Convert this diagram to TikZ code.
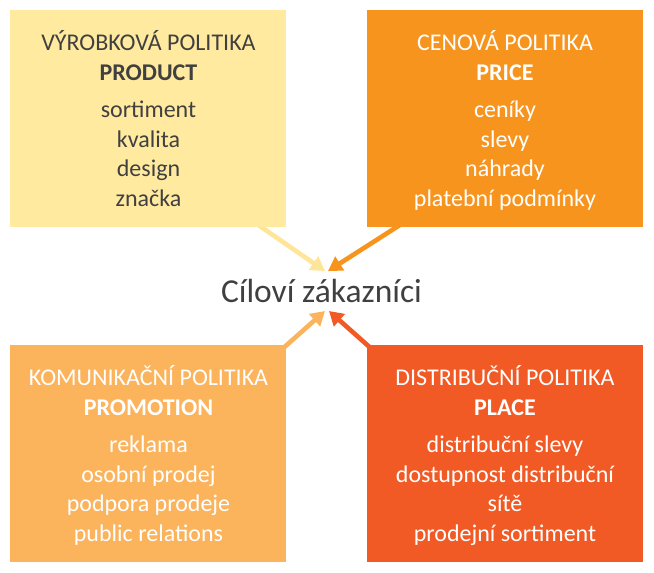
\documentclass[tikz,border=0pt]{standalone}
\usepackage{fontspec}
\setmainfont{Carlito}
\usetikzlibrary{arrows.meta}
\definecolor{cYel}{HTML}{FFEAA0}
\definecolor{cOra}{HTML}{F7941E}
\definecolor{cLor}{HTML}{FBB35C}
\definecolor{cRed}{HTML}{F15A24}
\definecolor{cTxt}{HTML}{404040}
\pgfdeclarelayer{bg}
\pgfsetlayers{bg,main}
\begin{document}
\begin{tikzpicture}[x=1pt,y=-1pt,
  boxnode/.style={draw=none,inner sep=0pt,minimum width=276pt,minimum height=217pt,anchor=north west},
  boxtext/.style={inner sep=0pt,anchor=north,align=center,font=\fontsize{24}{29.7}\selectfont},
  arr/.style={line width=4.6pt,-{Triangle[width=16pt,length=14pt]}}]
\useasboundingbox (0,0) rectangle (654,573);
\node[boxnode,fill=cYel] (tl) at (10,10) {};
\node[boxnode,fill=cOra] (tr) at (367,10) {};
\node[boxnode,fill=cLor] (bl) at (10,345) {};
\node[boxnode,fill=cRed] (br) at (367,345) {};
\node[boxtext,text=cTxt] (tlt) at (148.5,30) {\strut VÝROBKOVÁ POLITIKA\\ \textbf{PRODUCT}\\[7pt] sortiment\\ kvalita\\ design\\ značka};
\node[boxtext,text=white] (trt) at (505,30) {\strut CENOVÁ POLITIKA\\ \textbf{PRICE}\\[7pt] ceníky\\ slevy\\ náhrady\\ platební podmínky};
\node[boxtext,text=white] (blt) at (148.5,365) {\strut KOMUNIKAČNÍ POLITIKA\\ \textbf{PROMOTION}\\[7pt] reklama\\ osobní prodej\\ podpora prodeje\\ public relations};
\node[boxtext,text=white] (brt) at (505,365) {\strut DISTRIBUČNÍ POLITIKA\\ \textbf{PLACE}\\[7pt] distribuční slevy\\ dostupnost distribuční\\ sítě\\ prodejní sortiment};
\node[inner sep=0pt,anchor=base,text=cTxt,font=\fontsize{33.5}{40}\selectfont] (c) at (321.5,302) {Cíloví zákazníci};
\coordinate (tlS) at (254,222);
\coordinate (tlE) at (325,271);
\coordinate (trS) at (403,223);
\coordinate (trE) at (328,271);
\coordinate (blS) at (280,351);
\coordinate (blE) at (325,311);
\coordinate (brS) at (374,351);
\coordinate (brE) at (329,311);
\begin{pgfonlayer}{bg}
\draw[arr,cYel!95!orange] (tlS) -- (tlE);
\draw[arr,cOra] (trS) -- (trE);
\draw[arr,cLor] (blS) -- (blE);
\draw[arr,cRed] (brS) -- (brE);
\end{pgfonlayer}
\end{tikzpicture}
\end{document}
